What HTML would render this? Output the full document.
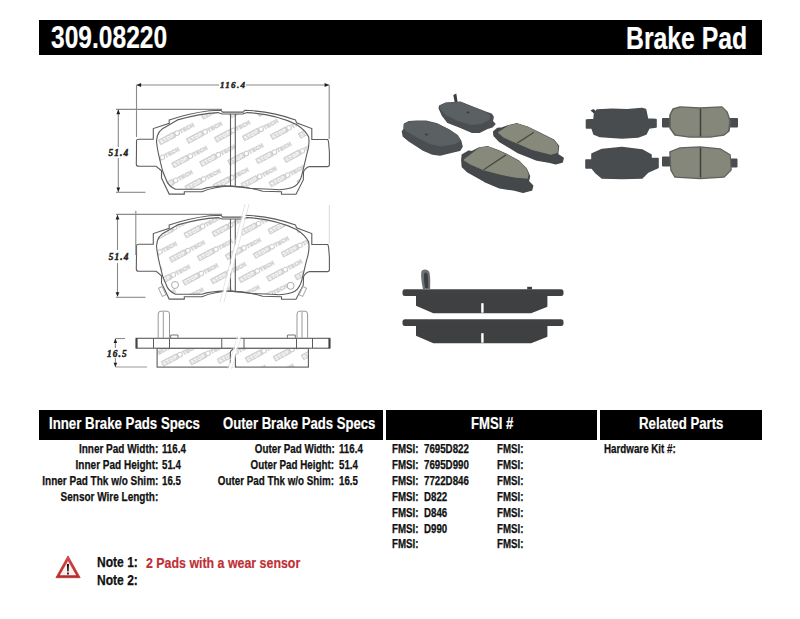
<!DOCTYPE html>
<html><head><meta charset="utf-8">
<style>
html,body{margin:0;padding:0;background:#fff;}
body{width:800px;height:619px;position:relative;overflow:hidden;font-family:"Liberation Sans",sans-serif;font-weight:bold;}
.t{position:absolute;white-space:nowrap;line-height:1;transform-origin:0 0;}
.bar{position:absolute;background:#000;}
.w{color:#fff;-webkit-text-stroke:0.2px #fff;}
.s{font-size:12px;color:#111;-webkit-text-stroke:0.25px #111;}
.r{transform-origin:100% 0;}
svg{position:absolute;left:0;top:0;}
</style></head><body>
<div class="bar" style="left:39px;top:20px;width:723px;height:35px;"></div>
<div class="t w" id="pn" style="left:51px;top:21.5px;font-size:31.5px;transform:scaleX(.78);">309.08220</div>
<div class="t w" id="bp" style="left:626px;top:22.5px;font-size:31.5px;transform:scaleX(.787);">Brake Pad</div>

<div class="bar" style="left:39px;top:410px;width:344px;height:30px;"></div>
<div class="bar" style="left:386px;top:410px;width:211px;height:30px;"></div>
<div class="bar" style="left:600px;top:410px;width:162px;height:30px;"></div>
<div class="t w" style="left:49px;top:416px;font-size:16px;transform:scaleX(.828);">Inner Brake Pads Specs</div>
<div class="t w" style="left:223px;top:416px;font-size:16px;transform:scaleX(.82);">Outer Brake Pads Specs</div>
<div class="t w" style="left:471px;top:416px;font-size:16px;transform:scaleX(.82);">FMSI #</div>
<div class="t w" style="left:638.8px;top:416px;font-size:16px;transform:scaleX(.826);">Related Parts</div>

<!-- inner specs -->
<div class="t s r" style="right:642px;top:443.4px;transform:scaleX(.833);">Inner Pad Width:</div>
<div class="t s r" style="right:642px;top:459.4px;transform:scaleX(.833);">Inner Pad Height:</div>
<div class="t s r" style="right:642px;top:475.4px;transform:scaleX(.833);">Inner Pad Thk w/o Shim:</div>
<div class="t s r" style="right:642px;top:491.4px;transform:scaleX(.833);">Sensor Wire Length:</div>
<div class="t s" style="left:161.5px;top:443.4px;transform:scaleX(.81);">116.4</div>
<div class="t s" style="left:161.5px;top:459.4px;transform:scaleX(.81);">51.4</div>
<div class="t s" style="left:161.5px;top:475.4px;transform:scaleX(.81);">16.5</div>
<!-- outer specs -->
<div class="t s r" style="right:465.6px;top:443.4px;transform:scaleX(.818);">Outer Pad Width:</div>
<div class="t s r" style="right:465.6px;top:459.4px;transform:scaleX(.818);">Outer Pad Height:</div>
<div class="t s r" style="right:465.6px;top:475.4px;transform:scaleX(.818);">Outer Pad Thk w/o Shim:</div>
<div class="t s" style="left:338.5px;top:443.4px;transform:scaleX(.81);">116.4</div>
<div class="t s" style="left:338.5px;top:459.4px;transform:scaleX(.81);">51.4</div>
<div class="t s" style="left:338.5px;top:475.4px;transform:scaleX(.81);">16.5</div>
<!-- fmsi -->
<div class="t s" style="left:392px;top:443.4px;transform:scaleX(.81);">FMSI:</div>
<div class="t s" style="left:392px;top:459.4px;transform:scaleX(.81);">FMSI:</div>
<div class="t s" style="left:392px;top:475.4px;transform:scaleX(.81);">FMSI:</div>
<div class="t s" style="left:392px;top:491.4px;transform:scaleX(.81);">FMSI:</div>
<div class="t s" style="left:392px;top:506.9px;transform:scaleX(.81);">FMSI:</div>
<div class="t s" style="left:392px;top:522.6px;transform:scaleX(.81);">FMSI:</div>
<div class="t s" style="left:392px;top:538.4px;transform:scaleX(.81);">FMSI:</div>
<div class="t s" style="left:424px;top:443.4px;transform:scaleX(.81);">7695D822</div>
<div class="t s" style="left:424px;top:459.4px;transform:scaleX(.81);">7695D990</div>
<div class="t s" style="left:424px;top:475.4px;transform:scaleX(.81);">7722D846</div>
<div class="t s" style="left:424px;top:491.4px;transform:scaleX(.81);">D822</div>
<div class="t s" style="left:424px;top:506.9px;transform:scaleX(.81);">D846</div>
<div class="t s" style="left:424px;top:522.6px;transform:scaleX(.81);">D990</div>
<div class="t s" style="left:497px;top:443.4px;transform:scaleX(.81);">FMSI:</div>
<div class="t s" style="left:497px;top:459.4px;transform:scaleX(.81);">FMSI:</div>
<div class="t s" style="left:497px;top:475.4px;transform:scaleX(.81);">FMSI:</div>
<div class="t s" style="left:497px;top:491.4px;transform:scaleX(.81);">FMSI:</div>
<div class="t s" style="left:497px;top:506.9px;transform:scaleX(.81);">FMSI:</div>
<div class="t s" style="left:497px;top:522.6px;transform:scaleX(.81);">FMSI:</div>
<div class="t s" style="left:497px;top:538.4px;transform:scaleX(.81);">FMSI:</div>
<div class="t s" style="left:603.6px;top:443.4px;transform:scaleX(.815);">Hardware Kit #:</div>

<!--PHOTO--><svg width="800" height="619" viewBox="0 0 800 619">
<defs><linearGradient id="gA" x1="0" y1="0" x2="0" y2="1"><stop offset="0" stop-color="#50565a"/><stop offset="1" stop-color="#3d4245"/></linearGradient><linearGradient id="gF" x1="0" y1="0" x2="1" y2="1"><stop offset="0" stop-color="#9a9d8c"/><stop offset="1" stop-color="#858a78"/></linearGradient></defs>
<path d="M453.3,95 L456.3,93.4 L457.8,103.5 L455,104 Z" fill="#3a3e41"/>
<path d="M439.8,105.9 L446.0,103.2 L460.2,102.3 L472.6,107.2 L485.0,112.1 L491.3,114.3 L493.0,117.0 L492.2,121.4 L494.8,124.0 L492.2,126.7 L486.8,128.5 L479.7,132.1 L471.7,132.1 L459.3,126.7 L447.8,122.3 L442.4,115.2 L439.3,108.1Z" fill="#4a4e50" stroke="#4a4e50" stroke-width="1.6" stroke-linejoin="round" />
<path d="M440.2,106.0 L446.0,103.4 L460.2,102.6 L472.6,107.4 L485.0,112.3 L489.5,115.0 L489.0,119.5 L481.0,123.5 L471.0,124.5 L458.0,120.5 L446.0,114.5 L441.0,109.0Z" fill="#5b6063" stroke="#5b6063" stroke-width="1.2" stroke-linejoin="round" />
<ellipse cx="468" cy="112.5" rx="1.6" ry="0.9" fill="#3b3f41"/>
<path d="M404.4,124.1 L409.1,121.7 L416.6,121.2 L425.9,121.2 L437.2,124.1 L448.4,129.7 L456.9,135.3 L460.6,140.9 L462.0,146.6 L459.7,150.3 L451.2,152.2 L440.0,155.0 L432.5,154.0 L422.2,149.4 L409.1,140.9 L403.4,136.2 L402.5,131.6 L404.4,128.7Z" fill="#4a4e50" stroke="#4a4e50" stroke-width="1.6" stroke-linejoin="round" />
<path d="M404.6,124.3 L409.1,122.0 L416.6,121.5 L425.9,121.5 L437.2,124.4 L448.4,130.0 L456.9,135.6 L459.8,140.5 L455.0,143.5 L441.0,146.0 L430.0,143.5 L418.0,137.5 L407.0,131.0 L404.0,128.0Z" fill="#5b6063" stroke="#5b6063" stroke-width="1.2" stroke-linejoin="round" />
<ellipse cx="426.5" cy="134.4" rx="1.6" ry="1" fill="#3b3f41"/>
<path d="M493.7,131.9 L497.5,128.6 L502.2,128.1 L508.7,125.8 L517.2,123.9 L527.5,127.2 L538.7,132.8 L553.7,140.3 L558.4,145.9 L557.5,154.4 L563.1,158.1 L562.2,161.9 L555.6,163.7 L550.0,162.3 L536.9,160.0 L518.1,152.5 L499.4,141.2 L494.2,135.6Z" fill="#44484a" stroke="#44484a" stroke-width="1.6" stroke-linejoin="round" />
<path d="M498.6,132.6 L508.7,125.9 L517.2,124.1 L527.5,127.4 L538.7,133.0 L553.5,140.5 L557.8,146.0 L557.0,152.5 L550.9,154.2 L532.2,149.5 L517.2,143.0 L504.1,137.3Z" fill="#878a7a" stroke="#878a7a" stroke-width="1.2" stroke-linejoin="round" />
<path d="M534,132.3 L517.2,143.1" stroke="#474a3f" stroke-width="1.3"/>
<path d="M462.4,154.9 L468.8,151.2 L472.0,151.7 L479.4,148.0 L488.0,146.9 L497.5,150.6 L506.0,154.3 L518.8,161.3 L526.2,168.7 L529.4,176.1 L528.3,181.4 L532.6,185.7 L531.5,190.0 L523.0,192.1 L514.5,190.0 L499.6,187.8 L484.8,181.4 L467.8,171.9 L462.4,166.6 L461.9,160.2Z" fill="#44484a" stroke="#44484a" stroke-width="1.6" stroke-linejoin="round" />
<path d="M464.2,160.0 L479.4,148.2 L488.0,147.1 L497.5,150.8 L506.0,154.5 L518.8,161.5 L526.0,168.9 L528.1,175.0 L527.2,178.1 L514.5,177.0 L499.6,173.8 L483.7,169.6 L471.0,164.2Z" fill="#878a7a" stroke="#878a7a" stroke-width="1.2" stroke-linejoin="round" />
<path d="M506,154.9 L483.7,169.8" stroke="#474a3f" stroke-width="1.3"/>
<path d="M590.5,110.5 L593.5,109 L599,114 L597,116 Z" fill="#3c4043"/>
<path d="M597.0,110.0 L612.0,109.2 L627.0,109.8 L642.0,108.5 L645.5,109.5 L647.5,119.0 L656.0,119.5 L656.0,127.0 L649.0,128.0 L646.0,134.0 L638.0,137.0 L622.0,138.0 L600.0,136.5 L594.0,134.0 L592.0,128.0 L586.5,128.0 L586.5,120.0 L594.0,119.5 L594.5,114.0Z" fill="#484c4f" stroke="#484c4f" stroke-width="1.6" stroke-linejoin="round" />
<path d="M662.5,118.5 L671.0,118.5 L671.0,127.0 L662.5,127.0Z" fill="#4a4d4f" stroke="#4a4d4f" stroke-width="1" stroke-linejoin="round" />
<path d="M729.0,118.5 L737.5,118.5 L737.5,127.0 L729.0,127.0Z" fill="#4a4d4f" stroke="#4a4d4f" stroke-width="1" stroke-linejoin="round" />
<path d="M673.0,109.0 L680.0,107.0 L700.0,108.0 L722.0,107.0 L727.0,112.0 L730.0,121.0 L729.0,131.0 L724.0,135.0 L710.0,137.0 L690.0,137.0 L675.0,135.0 L670.0,128.0 L670.0,115.0Z" fill="#5f625d" stroke="#5f625d" stroke-width="1.6" stroke-linejoin="round" />
<path d="M674.0,110.0 L680.0,108.2 L700.0,109.2 L722.0,108.2 L726.0,112.5 L728.5,121.0 L727.5,130.5 L723.0,134.0 L710.0,135.8 L690.0,135.8 L676.0,134.0 L671.5,128.0 L671.5,115.0Z" fill="#84877a" stroke="#84877a" stroke-width="1.2" stroke-linejoin="round" />
<path d="M700.5,108.5 L700.5,136.5" stroke="#3f423c" stroke-width="1.5"/>
<path d="M592.0,154.0 L602.0,149.5 L622.0,147.5 L642.0,150.0 L651.0,155.0 L651.0,158.5 L658.0,158.5 L658.0,167.5 L648.0,172.0 L642.0,178.0 L622.0,178.5 L602.0,178.0 L596.0,173.0 L592.0,168.0 L586.0,168.0 L586.0,160.0 L592.0,160.0Z" fill="#484c4f" stroke="#484c4f" stroke-width="1.6" stroke-linejoin="round" />
<path d="M662.5,157.0 L670.0,157.0 L670.0,166.0 L662.5,166.0Z" fill="#4a4d4f" stroke="#4a4d4f" stroke-width="1" stroke-linejoin="round" />
<path d="M731.0,159.0 L737.0,159.0 L737.0,167.0 L731.0,167.0Z" fill="#4a4d4f" stroke="#4a4d4f" stroke-width="1" stroke-linejoin="round" />
<path d="M670.0,152.0 L680.0,148.0 L700.0,147.0 L720.0,149.0 L730.0,155.0 L731.0,170.0 L724.0,177.0 L700.0,178.5 L675.0,177.0 L671.0,170.0Z" fill="#5f625d" stroke="#5f625d" stroke-width="1.6" stroke-linejoin="round" />
<path d="M671.3,152.5 L680.0,149.0 L700.0,148.0 L720.0,150.0 L729.0,155.5 L730.0,169.5 L723.5,176.0 L700.0,177.5 L675.5,176.0 L672.0,169.5Z" fill="#84877a" stroke="#84877a" stroke-width="1.2" stroke-linejoin="round" />
<path d="M700.5,147.5 L700.5,177.5" stroke="#3f423c" stroke-width="1.5"/>
<rect x="402.5" y="289.2" width="161" height="6.8" rx="2.5" fill="#3f4143"/><path d="M416.8,295.2 L546.6,295.2 L546.6,306.2 L530.8,312.5 L433.7,312.5 L416.8,305.2Z" fill="#3e4042" stroke="#3e4042" stroke-width="1.6" stroke-linejoin="round" /><rect x="481.2" y="303.2" width="2.4" height="9.5" fill="#fff"/>
<rect x="402.5" y="319.2" width="161" height="6.8" rx="2.5" fill="#3f4143"/><path d="M416.8,325.2 L546.6,325.2 L546.6,336.2 L530.8,342.5 L433.7,342.5 L416.8,335.2Z" fill="#3e4042" stroke="#3e4042" stroke-width="1.6" stroke-linejoin="round" /><rect x="481.2" y="333.2" width="2.4" height="9.5" fill="#fff"/>
<path d="M423,289 C421,280 420.5,272 422,270.5 C424.5,268.5 428.5,269.5 429.5,272.5 C430.5,277 430.3,283 430.1,289 Z" fill="#6e7173"/>
<path d="M425,288 C424,281 423.5,275 424.5,273 C426,271.5 427.5,273 428,276 L428.3,288 Z" fill="#3b3f42"/>
<rect x="527.2" y="286.8" width="4.8" height="2.6" fill="#3b3f42"/>
</svg><!--/PHOTO-->
<!--DIAG--><svg width="800" height="619" viewBox="0 0 800 619">
<defs><g id="u"><rect x="-8.6" y="-2.6" width="17.2" height="5.2" fill="#d8d8d8" stroke="#c6c6c6" stroke-width="0.7"/><text x="0" y="1.9" text-anchor="middle" font-family="Liberation Sans" font-size="5" font-weight="bold" fill="#fff" letter-spacing="0.6">STOP</text><circle cx="11.3" cy="0" r="2.3" fill="#fff" stroke="#c8c8c8" stroke-width="1"/><text x="14.2" y="2" font-family="Liberation Sans" font-size="5.4" font-weight="bold" fill="#fff" stroke="#d2d2d2" stroke-width="0.7" letter-spacing="0.3">TECH</text></g><clipPath id="c1"><path d="M163,172.3 Q157,150 156.5,141 Q157,130 166.8,126.2 Q173,122.5 177.5,119.9 Q200,113.5 218.1,112.6 L222,114 L243,114 L247,112.6 Q275,114 296.5,124.5 Q305,130 308.6,136.7 Q310,145 306.6,155.2 L302.1,174.2 Q300,183 294.8,186.3 Q290,189.2 279,189.7 Q260,189 250,188.3 Q228,185.9 225,185.9 Q210,186.5 202,189.2 L175.5,189.2 Q168,186 165.9,179 Z"/></clipPath><clipPath id="c3"><rect x="157.1" y="348.2" width="151.3" height="18.9"/></clipPath></defs>
<line x1="136.5" y1="85" x2="219" y2="85" stroke="#8a8a8a" stroke-width="1.1"/><line x1="246" y1="85" x2="329.2" y2="85" stroke="#8a8a8a" stroke-width="1.1"/>
<path d="M136.5,85 l4.6,-1.9 v3.8z M329.2,85 l-4.6,-1.9 v3.8z" fill="#222"/>
<line x1="136.5" y1="85" x2="136.5" y2="137" stroke="#8a8a8a" stroke-width="1.1"/><line x1="329.2" y1="85" x2="329.2" y2="139" stroke="#8a8a8a" stroke-width="1.1"/>
<line x1="116" y1="109.4" x2="222" y2="109.4" stroke="#8a8a8a" stroke-width="1.1"/><line x1="116" y1="192.3" x2="145.5" y2="192.3" stroke="#8a8a8a" stroke-width="1.1"/>
<line x1="118.3" y1="110" x2="118.3" y2="147" stroke="#8a8a8a" stroke-width="1.1"/><line x1="118.3" y1="158" x2="118.3" y2="191.8" stroke="#8a8a8a" stroke-width="1.1"/>
<path d="M118.3,109.6 l-1.9,4.6 h3.8z M118.3,192 l-1.9,-4.6 h3.8z" fill="#222"/>
<text x="220" y="88.2" font-size="9" letter-spacing="1.3" font-family="Liberation Serif" font-style="italic" font-weight="bold" fill="#222" stroke="#222" stroke-width="0.45">116.4</text>
<text x="108.5" y="155.5" font-size="9.3" letter-spacing="1.1" font-family="Liberation Serif" font-style="italic" font-weight="bold" fill="#222" stroke="#222" stroke-width="0.45">51.4</text>
<g transform="translate(0,0)"><g clip-path="url(#c1)"><use href="#u" transform="translate(140.5,92.4) rotate(-28)"/><use href="#u" transform="translate(168.5,91.1) rotate(-28)"/><use href="#u" transform="translate(196.5,89.8) rotate(-28)"/><use href="#u" transform="translate(224.5,88.5) rotate(-28)"/><use href="#u" transform="translate(252.5,87.2) rotate(-28)"/><use href="#u" transform="translate(280.5,85.9) rotate(-28)"/><use href="#u" transform="translate(125.8,116.7) rotate(-28)"/><use href="#u" transform="translate(153.8,115.4) rotate(-28)"/><use href="#u" transform="translate(181.8,114.1) rotate(-28)"/><use href="#u" transform="translate(209.8,112.8) rotate(-28)"/><use href="#u" transform="translate(237.8,111.5) rotate(-28)"/><use href="#u" transform="translate(265.8,110.2) rotate(-28)"/><use href="#u" transform="translate(293.8,108.9) rotate(-28)"/><use href="#u" transform="translate(321.8,107.6) rotate(-28)"/><use href="#u" transform="translate(139.1,139.7) rotate(-28)"/><use href="#u" transform="translate(167.1,138.4) rotate(-28)"/><use href="#u" transform="translate(195.1,137.1) rotate(-28)"/><use href="#u" transform="translate(223.1,135.8) rotate(-28)"/><use href="#u" transform="translate(251.1,134.5) rotate(-28)"/><use href="#u" transform="translate(279.1,133.2) rotate(-28)"/><use href="#u" transform="translate(307.1,131.9) rotate(-28)"/><use href="#u" transform="translate(335.1,130.6) rotate(-28)"/><use href="#u" transform="translate(124.4,164.0) rotate(-28)"/><use href="#u" transform="translate(152.4,162.7) rotate(-28)"/><use href="#u" transform="translate(180.4,161.4) rotate(-28)"/><use href="#u" transform="translate(208.4,160.1) rotate(-28)"/><use href="#u" transform="translate(236.4,158.8) rotate(-28)"/><use href="#u" transform="translate(264.4,157.5) rotate(-28)"/><use href="#u" transform="translate(292.4,156.2) rotate(-28)"/><use href="#u" transform="translate(320.4,154.9) rotate(-28)"/><use href="#u" transform="translate(137.7,187.0) rotate(-28)"/><use href="#u" transform="translate(165.7,185.7) rotate(-28)"/><use href="#u" transform="translate(193.7,184.4) rotate(-28)"/><use href="#u" transform="translate(221.7,183.1) rotate(-28)"/><use href="#u" transform="translate(249.7,181.8) rotate(-28)"/><use href="#u" transform="translate(277.7,180.5) rotate(-28)"/><use href="#u" transform="translate(305.7,179.2) rotate(-28)"/><use href="#u" transform="translate(333.7,177.9) rotate(-28)"/><use href="#u" transform="translate(123.0,211.3) rotate(-28)"/><use href="#u" transform="translate(151.0,210.0) rotate(-28)"/><use href="#u" transform="translate(179.0,208.7) rotate(-28)"/><use href="#u" transform="translate(207.0,207.4) rotate(-28)"/><use href="#u" transform="translate(235.0,206.1) rotate(-28)"/><use href="#u" transform="translate(263.0,204.8) rotate(-28)"/><use href="#u" transform="translate(291.0,203.5) rotate(-28)"/><use href="#u" transform="translate(319.0,202.2) rotate(-28)"/></g><path d="M163,172.3 Q157,150 156.5,141 Q157,130 166.8,126.2 Q173,122.5 177.5,119.9 Q200,113.5 218.1,112.6 L222,114 L243,114 L247,112.6 Q275,114 296.5,124.5 Q305,130 308.6,136.7 Q310,145 306.6,155.2 L302.1,174.2 Q300,183 294.8,186.3 Q290,189.2 279,189.7 Q260,189 250,188.3 Q228,185.9 225,185.9 Q210,186.5 202,189.2 L175.5,189.2 Q168,186 165.9,179 Z" fill="none" stroke="#5c5c5c" stroke-width="1.1"/><path d="M136.5,141 Q136.5,139.2 138.5,139.2 L153.3,139.2 L153.3,128.6 L169.2,123.3 L169.2,119.9 Q188,113.5 209.4,110.7 L221,110.2 L222.5,112.1 L243.3,112.1 L244.7,110.2 Q272,111.5 295.5,119.9 L296.5,122.8 L311.8,128.6 L311.8,139.5 L327.5,139.5 Q328.6,140 328.8,145 L329.4,152 L329.4,164.5 Q329.4,166.6 327.2,166.6 L309.4,166.6 Q304.5,168.5 303.5,172 L303.3,179.9 L296,194.3 L281.5,194.3 L281.5,191.7 L262.6,191.2 Q246,186.5 232,186 Q214,186.5 202,191.7 L184.3,191.7 L184.3,194.1 L169.2,194.1 L161.5,178.1 L161.5,170.8 L156.2,166.3 L138.7,166.3 Q136.3,166.3 136.3,164 L136.5,150 Z" fill="none" stroke="#5c5c5c" stroke-width="1.1"/><line x1="230.5" y1="114" x2="230.5" y2="186" stroke="#5c5c5c" stroke-width="1.1"/><line x1="235.3" y1="114" x2="235.3" y2="186" stroke="#5c5c5c" stroke-width="1.1"/></g>
<g transform="translate(0,105)"><g clip-path="url(#c1)"><use href="#u" transform="translate(123.4,106.2) rotate(-28)"/><use href="#u" transform="translate(151.4,104.9) rotate(-28)"/><use href="#u" transform="translate(179.4,103.6) rotate(-28)"/><use href="#u" transform="translate(207.4,102.3) rotate(-28)"/><use href="#u" transform="translate(235.4,101.0) rotate(-28)"/><use href="#u" transform="translate(263.4,99.7) rotate(-28)"/><use href="#u" transform="translate(291.4,98.4) rotate(-28)"/><use href="#u" transform="translate(319.4,97.1) rotate(-28)"/><use href="#u" transform="translate(136.7,129.2) rotate(-28)"/><use href="#u" transform="translate(164.7,127.9) rotate(-28)"/><use href="#u" transform="translate(192.7,126.6) rotate(-28)"/><use href="#u" transform="translate(220.7,125.3) rotate(-28)"/><use href="#u" transform="translate(248.7,124.0) rotate(-28)"/><use href="#u" transform="translate(276.7,122.7) rotate(-28)"/><use href="#u" transform="translate(304.7,121.4) rotate(-28)"/><use href="#u" transform="translate(332.7,120.1) rotate(-28)"/><use href="#u" transform="translate(122.0,153.5) rotate(-28)"/><use href="#u" transform="translate(150.0,152.2) rotate(-28)"/><use href="#u" transform="translate(178.0,150.9) rotate(-28)"/><use href="#u" transform="translate(206.0,149.6) rotate(-28)"/><use href="#u" transform="translate(234.0,148.3) rotate(-28)"/><use href="#u" transform="translate(262.0,147.0) rotate(-28)"/><use href="#u" transform="translate(290.0,145.7) rotate(-28)"/><use href="#u" transform="translate(318.0,144.4) rotate(-28)"/><use href="#u" transform="translate(135.3,176.5) rotate(-28)"/><use href="#u" transform="translate(163.3,175.2) rotate(-28)"/><use href="#u" transform="translate(191.3,173.9) rotate(-28)"/><use href="#u" transform="translate(219.3,172.6) rotate(-28)"/><use href="#u" transform="translate(247.3,171.3) rotate(-28)"/><use href="#u" transform="translate(275.3,170.0) rotate(-28)"/><use href="#u" transform="translate(303.3,168.7) rotate(-28)"/><use href="#u" transform="translate(331.3,167.4) rotate(-28)"/><use href="#u" transform="translate(120.6,200.8) rotate(-28)"/><use href="#u" transform="translate(148.6,199.5) rotate(-28)"/><use href="#u" transform="translate(176.6,198.2) rotate(-28)"/><use href="#u" transform="translate(204.6,196.9) rotate(-28)"/><use href="#u" transform="translate(232.6,195.6) rotate(-28)"/><use href="#u" transform="translate(260.6,194.3) rotate(-28)"/><use href="#u" transform="translate(288.6,193.0) rotate(-28)"/><use href="#u" transform="translate(316.6,191.7) rotate(-28)"/><use href="#u" transform="translate(344.6,190.4) rotate(-28)"/><use href="#u" transform="translate(329.9,214.7) rotate(-28)"/></g><path d="M163,172.3 Q157,150 156.5,141 Q157,130 166.8,126.2 Q173,122.5 177.5,119.9 Q200,113.5 218.1,112.6 L222,114 L243,114 L247,112.6 Q275,114 296.5,124.5 Q305,130 308.6,136.7 Q310,145 306.6,155.2 L302.1,174.2 Q300,183 294.8,186.3 Q290,189.2 279,189.7 Q260,189 250,188.3 Q228,185.9 225,185.9 Q210,186.5 202,189.2 L175.5,189.2 Q168,186 165.9,179 Z" fill="none" stroke="#5c5c5c" stroke-width="1.1"/><path d="M136.5,141 Q136.5,139.2 138.5,139.2 L153.3,139.2 L153.3,128.6 L169.2,123.3 L169.2,119.9 Q188,113.5 209.4,110.7 L221,110.2 L222.5,112.1 L243.3,112.1 L244.7,110.2 Q272,111.5 295.5,119.9 L296.5,122.8 L311.8,128.6 L311.8,139.5 L327.5,139.5 Q328.6,140 328.8,145 L329.4,152 L329.4,164.5 Q329.4,166.6 327.2,166.6 L309.4,166.6 Q304.5,168.5 303.5,172 L303.3,179.9 L296,194.3 L281.5,194.3 L281.5,191.7 L262.6,191.2 Q246,186.5 232,186 Q214,186.5 202,191.7 L184.3,191.7 L184.3,194.1 L169.2,194.1 L161.5,178.1 L161.5,170.8 L156.2,166.3 L138.7,166.3 Q136.3,166.3 136.3,164 L136.5,150 Z" fill="none" stroke="#5c5c5c" stroke-width="1.1"/><line x1="230.5" y1="114" x2="230.5" y2="186" stroke="#5c5c5c" stroke-width="1.1"/><line x1="235.3" y1="114" x2="235.3" y2="186" stroke="#5c5c5c" stroke-width="1.1"/><circle cx="175" cy="180" r="3.5" fill="none" stroke="#aaa" stroke-width="1"/><circle cx="290.6" cy="180.8" r="3.5" fill="none" stroke="#aaa" stroke-width="1"/><rect x="160" y="182" width="4" height="9" transform="rotate(-25 162 186)" fill="none" stroke="#aaa" stroke-width="1"/><rect x="301" y="182" width="4" height="9" transform="rotate(25 303 186)" fill="none" stroke="#aaa" stroke-width="1"/></g>
<path d="M245,204 L220,302 M249,204 L224,302" stroke="#dcdcdc" stroke-width="0.8" fill="none"/>
<path d="M247,204 L222,302" stroke="#fff" stroke-width="2.6" fill="none"/>
<line x1="135.8" y1="210.8" x2="135.8" y2="254.9" stroke="#8a8a8a" stroke-width="1.1"/><line x1="329.3" y1="205" x2="329.3" y2="244" stroke="#ddd" stroke-width="1"/>
<line x1="116" y1="214.4" x2="222" y2="214.4" stroke="#8a8a8a" stroke-width="1.1"/><line x1="116" y1="297.3" x2="145.5" y2="297.3" stroke="#8a8a8a" stroke-width="1.1"/>
<line x1="117.5" y1="215.2" x2="117.5" y2="250" stroke="#8a8a8a" stroke-width="1.1"/><line x1="117.5" y1="263" x2="117.5" y2="296" stroke="#8a8a8a" stroke-width="1.1"/>
<path d="M117.5,214.8 l-1.9,4.6 h3.8z M117.5,296.8 l-1.9,-4.6 h3.8z" fill="#222"/>
<text x="108.8" y="260.2" font-size="9.3" letter-spacing="1.1" font-family="Liberation Serif" font-style="italic" font-weight="bold" fill="#222" stroke="#222" stroke-width="0.45">51.4</text>
<g clip-path="url(#c3)"><use href="#u" transform="translate(128.7,338.3) rotate(-28)"/><use href="#u" transform="translate(156.7,337.0) rotate(-28)"/><use href="#u" transform="translate(184.7,335.7) rotate(-28)"/><use href="#u" transform="translate(212.7,334.4) rotate(-28)"/><use href="#u" transform="translate(240.7,333.1) rotate(-28)"/><use href="#u" transform="translate(268.7,331.8) rotate(-28)"/><use href="#u" transform="translate(296.7,330.5) rotate(-28)"/><use href="#u" transform="translate(324.7,329.2) rotate(-28)"/><use href="#u" transform="translate(142.0,361.3) rotate(-28)"/><use href="#u" transform="translate(170.0,360.0) rotate(-28)"/><use href="#u" transform="translate(198.0,358.7) rotate(-28)"/><use href="#u" transform="translate(226.0,357.4) rotate(-28)"/><use href="#u" transform="translate(254.0,356.1) rotate(-28)"/><use href="#u" transform="translate(282.0,354.8) rotate(-28)"/><use href="#u" transform="translate(310.0,353.5) rotate(-28)"/><use href="#u" transform="translate(338.0,352.2) rotate(-28)"/><use href="#u" transform="translate(127.3,385.6) rotate(-28)"/><use href="#u" transform="translate(155.3,384.3) rotate(-28)"/><use href="#u" transform="translate(183.3,383.0) rotate(-28)"/><use href="#u" transform="translate(211.3,381.7) rotate(-28)"/><use href="#u" transform="translate(239.3,380.4) rotate(-28)"/><use href="#u" transform="translate(267.3,379.1) rotate(-28)"/><use href="#u" transform="translate(295.3,377.8) rotate(-28)"/><use href="#u" transform="translate(323.3,376.5) rotate(-28)"/></g>
<rect x="157.1" y="348.2" width="151.3" height="18.9" stroke="#5c5c5c" stroke-width="1.1" fill="none"/>
<rect x="136.2" y="338.3" width="193.6" height="9.9" fill="#fff" stroke="#5c5c5c" stroke-width="1.1"/>
<line x1="136.6" y1="338.3" x2="136.6" y2="348.2" stroke="#444" stroke-width="2"/>
<line x1="329.4" y1="338.3" x2="329.4" y2="348.2" stroke="#444" stroke-width="2"/>
<line x1="153.5" y1="338.3" x2="153.5" y2="348.2" stroke="#5c5c5c" stroke-width="1"/>
<line x1="169.5" y1="338.3" x2="169.5" y2="348.2" stroke="#5c5c5c" stroke-width="1"/>
<line x1="221.75" y1="338.3" x2="221.75" y2="348.2" stroke="#5c5c5c" stroke-width="1"/>
<line x1="244" y1="338.3" x2="244" y2="348.2" stroke="#5c5c5c" stroke-width="1"/>
<line x1="296.5" y1="338.3" x2="296.5" y2="348.2" stroke="#5c5c5c" stroke-width="1"/>
<line x1="312.5" y1="338.3" x2="312.5" y2="348.2" stroke="#5c5c5c" stroke-width="1"/>
<path d="M158.2,338.3 V314 Q158.2,311.2 161,311.2 H167 Q169.5,311.2 169.5,314 V338.3 M163.3,312 V338" stroke="#999" stroke-width="1" fill="none"/>
<path d="M297,338.3 V314 Q297,311.2 299.8,311.2 H305 Q307.6,311.2 307.6,314 V338.3 M302,312 V338" stroke="#999" stroke-width="1" fill="none"/>
<path d="M170.7,338.3 V335 H178 V338.3 M287.4,338.3 V335 H295.3 V338.3" stroke="#777" stroke-width="1" fill="none"/>
<rect x="231" y="348.8" width="4" height="19" fill="#fff"/>
<path d="M230.4,351.7 V367 M235.4,355 V367 M230.4,351.7 L233,349" stroke="#5c5c5c" stroke-width="1.1" fill="none"/>
<path d="M239.5,336 L229.5,369" stroke="#fff" stroke-width="2" fill="none"/>
<path d="M237.5,336 L227.5,369 M241.5,336 L231.5,369" stroke="#e2e2e2" stroke-width="0.7" fill="none"/>
<line x1="115.4" y1="338.5" x2="125" y2="338.5" stroke="#8a8a8a" stroke-width="1.1"/><line x1="115.4" y1="367" x2="147" y2="367" stroke="#aaa" stroke-width="1.2"/>
<line x1="115.4" y1="339" x2="115.4" y2="348" stroke="#8a8a8a" stroke-width="1.1"/><line x1="115.4" y1="358" x2="115.4" y2="367" stroke="#8a8a8a" stroke-width="1.1"/>
<path d="M115.4,338.6 l-1.8,4.3 h3.6z M115.4,367 l-1.8,-4.3 h3.6z" fill="#222"/>
<text x="107" y="356.6" font-size="9.3" letter-spacing="1.1" font-family="Liberation Serif" font-style="italic" font-weight="bold" fill="#222" stroke="#222" stroke-width="0.45">16.5</text>
</svg><!--/DIAG-->
<!-- notes -->
<svg width="800" height="619" viewBox="0 0 800 619">
<defs><linearGradient id="tri" x1="0" y1="0" x2="0" y2="1"><stop offset="0" stop-color="#d94a4a"/><stop offset="1" stop-color="#b52a2a"/></linearGradient></defs>
<path d="M68,555.9 L80.2,577.7 L55.9,577.7 Z" fill="url(#tri)" stroke="#c23434" stroke-width="0.8" stroke-linejoin="round"/>
<path d="M68,561 L76.2,575.3 L59.8,575.3 Z" fill="#fbeeee"/>
<path d="M66.9,564 L69,564 L68.6,571.6 L67.3,571.6 Z" fill="#111"/>
<rect x="67.1" y="572.6" width="1.8" height="1.9" fill="#111"/>
</svg>
<div class="t" style="left:96.5px;top:554.5px;font-size:14.2px;color:#111;-webkit-text-stroke:0.25px #111;transform:scaleX(.85);">Note 1:</div>
<div class="t" style="left:96.5px;top:572.5px;font-size:14.2px;color:#111;-webkit-text-stroke:0.25px #111;transform:scaleX(.85);">Note 2:</div>
<div class="t" style="left:145.5px;top:555.5px;font-size:14.9px;color:#bf3036;-webkit-text-stroke:0.2px #bf3036;transform:scaleX(.832);">2 Pads with a wear sensor</div>

</body></html>
